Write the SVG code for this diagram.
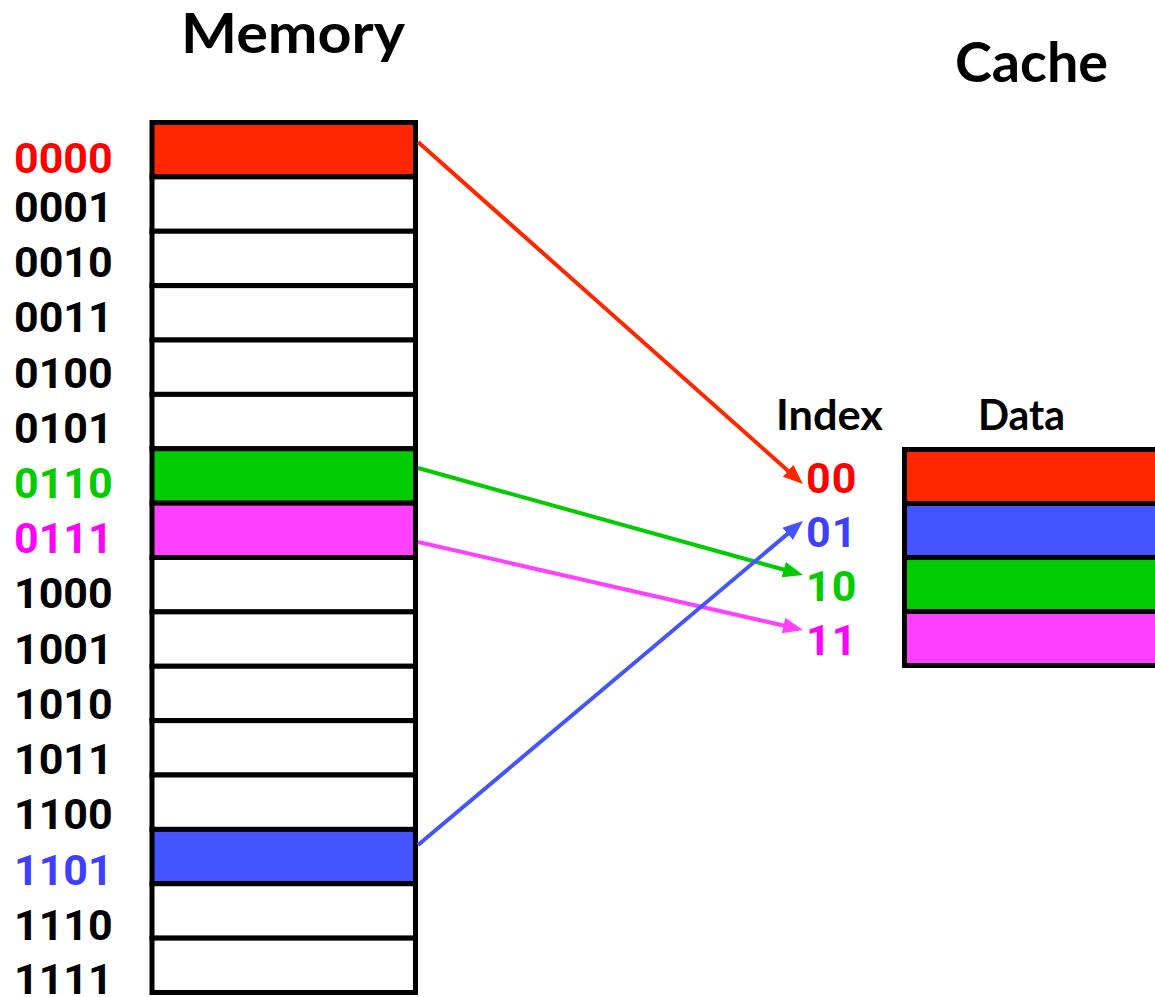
<svg xmlns="http://www.w3.org/2000/svg" width="1155" height="997" viewBox="0 0 1155 997">
  <style>
    .title { font-family: Lato, "Open Sans", sans-serif; font-weight: bold; fill: #000; }
    .num { font-family: Roboto, "Liberation Sans", Arial, sans-serif; font-weight: bold; font-size: 43px; }
    .cell { stroke: #000; stroke-width: 5; }
    .empty { fill: #fff; }
    .red { fill: #ff2600; }
    .green { fill: #00cc00; }
    .pink { fill: #ff40ff; }
    .blue { fill: #4455ff; }
    .wire { fill: none; stroke-width: 4; }
  </style>
  <defs>
    <marker id="head-red" viewBox="0 0 20 16" refX="10" refY="8" markerWidth="20" markerHeight="16" markerUnits="userSpaceOnUse" orient="auto">
      <path d="M0,0 L20,8 L0,16 Z" fill="#ff2600"/>
    </marker>
    <marker id="head-green" viewBox="0 0 20 16" refX="10" refY="8" markerWidth="20" markerHeight="16" markerUnits="userSpaceOnUse" orient="auto">
      <path d="M0,0 L20,8 L0,16 Z" fill="#00cc00"/>
    </marker>
    <marker id="head-pink" viewBox="0 0 20 16" refX="10" refY="8" markerWidth="20" markerHeight="16" markerUnits="userSpaceOnUse" orient="auto">
      <path d="M0,0 L20,8 L0,16 Z" fill="#ff40ff"/>
    </marker>
    <marker id="head-blue" viewBox="0 0 20 16" refX="10" refY="8" markerWidth="20" markerHeight="16" markerUnits="userSpaceOnUse" orient="auto">
      <path d="M0,0 L20,8 L0,16 Z" fill="#4455ff"/>
    </marker>
  </defs>

  <rect width="1155" height="997" fill="#fff"/>

  <!-- headings -->
  <g id="title-memory">
    <text class="title" x="293" y="53" font-size="56" text-anchor="middle" textLength="224" lengthAdjust="spacingAndGlyphs">Memory</text>
  </g>
  <g id="title-cache">
    <text class="title" x="1031.5" y="82" font-size="56" text-anchor="middle" textLength="153" lengthAdjust="spacingAndGlyphs">Cache</text>
  </g>

  <!-- memory: 16 rows, 54.375 high -->
  <g id="memory">
    <rect id="mem-0000" class="cell red" x="152" y="122.5" width="263.5" height="54.375"/>
    <rect id="mem-0001" class="cell empty" x="152" y="176.875" width="263.5" height="54.375"/>
    <rect id="mem-0010" class="cell empty" x="152" y="231.25" width="263.5" height="54.375"/>
    <rect id="mem-0011" class="cell empty" x="152" y="285.625" width="263.5" height="54.375"/>
    <rect id="mem-0100" class="cell empty" x="152" y="340" width="263.5" height="54.375"/>
    <rect id="mem-0101" class="cell empty" x="152" y="394.375" width="263.5" height="54.375"/>
    <rect id="mem-0110" class="cell green" x="152" y="448.75" width="263.5" height="54.375"/>
    <rect id="mem-0111" class="cell pink" x="152" y="503.125" width="263.5" height="54.375"/>
    <rect id="mem-1000" class="cell empty" x="152" y="557.5" width="263.5" height="54.375"/>
    <rect id="mem-1001" class="cell empty" x="152" y="611.875" width="263.5" height="54.375"/>
    <rect id="mem-1010" class="cell empty" x="152" y="666.25" width="263.5" height="54.375"/>
    <rect id="mem-1011" class="cell empty" x="152" y="720.625" width="263.5" height="54.375"/>
    <rect id="mem-1100" class="cell empty" x="152" y="775" width="263.5" height="54.375"/>
    <rect id="mem-1101" class="cell blue" x="152" y="829.375" width="263.5" height="54.375"/>
    <rect id="mem-1110" class="cell empty" x="152" y="883.75" width="263.5" height="54.375"/>
    <rect id="mem-1111" class="cell empty" x="152" y="938.125" width="263.5" height="54.375"/>
  </g>

  <!-- memory addresses -->
  <g id="addresses" class="num">
    <text x="14" y="173" fill="#ff0000">0000</text>
    <text x="14" y="222" fill="#000">0001</text>
    <text x="14" y="277" fill="#000">0010</text>
    <text x="14" y="332" fill="#000">0011</text>
    <text x="14" y="388" fill="#000">0100</text>
    <text x="14" y="443" fill="#000">0101</text>
    <text x="14" y="498" fill="#00cc00">0110</text>
    <text x="14" y="553" fill="#ff00ff">0111</text>
    <text x="14" y="608" fill="#000">1000</text>
    <text x="14" y="664" fill="#000">1001</text>
    <text x="14" y="719" fill="#000">1010</text>
    <text x="14" y="774" fill="#000">1011</text>
    <text x="14" y="829" fill="#000">1100</text>
    <text x="14" y="885" fill="#3f3fff">1101</text>
    <text x="14" y="940" fill="#000">1110</text>
    <text x="14" y="994" fill="#000">1111</text>
  </g>

  <!-- cache -->
  <g id="cache-headings">
    <text class="title" x="829.5" y="430" font-size="42" text-anchor="middle" textLength="107" lengthAdjust="spacingAndGlyphs">Index</text>
    <text class="title" x="1021.5" y="430" font-size="42" text-anchor="middle" textLength="87" lengthAdjust="spacingAndGlyphs">Data</text>
  </g>
  <g id="cache">
    <rect id="line-00" class="cell red" x="904.5" y="449.5" width="262" height="54"/>
    <rect id="line-01" class="cell blue" x="904.5" y="503.5" width="262" height="54"/>
    <rect id="line-10" class="cell green" x="904.5" y="557.5" width="262" height="54"/>
    <rect id="line-11" class="cell pink" x="904.5" y="611.5" width="262" height="54"/>
  </g>
  <g id="indices" class="num" letter-spacing="1">
    <text x="806" y="493" fill="#ff0000">00</text>
    <text x="806" y="547" fill="#3f3fff">01</text>
    <text x="806" y="601" fill="#00cc00">10</text>
    <text x="806" y="655" fill="#ff00ff">11</text>
  </g>

  <!-- mapping of memory blocks to cache lines -->
  <g id="connectors" class="wire">
    <line x1="418" y1="142" x2="795.5" y2="477.4" stroke="#ff2600" marker-end="url(#head-red)"/>
    <line x1="418" y1="468" x2="793.4" y2="572.3" stroke="#00cc00" marker-end="url(#head-green)"/>
    <line x1="418" y1="542" x2="793.3" y2="627.8" stroke="#ff40ff" marker-end="url(#head-pink)"/>
    <line x1="418" y1="845" x2="795.3" y2="527.4" stroke="#4455ff" marker-end="url(#head-blue)"/>
  </g>
</svg>
